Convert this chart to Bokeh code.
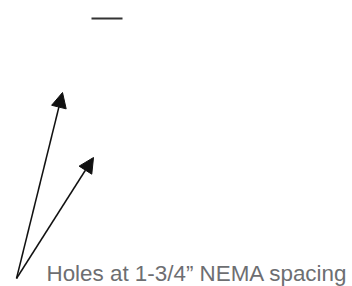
from bokeh.plotting import figure
from bokeh.models import Range1d, Arrow, NormalHead, ColumnDataSource
from bokeh.embed import file_html
from bokeh.resources import INLINE
from bokeh.core.properties import value

# pointer geometry (page pixels)
arrow_x_start = [16, 16]
arrow_y_start = [278, 278]
arrow_x_end = [62, 93]
arrow_y_end = [92, 157]
bar_x = [91, 122]
bar_y = [18, 18]
label_text = ["Holes at 1-3/4\u201d NEMA spacing"]
label_x = [46]
label_y = [273]

W, H = 352, 286
p = figure(width=W, height=H, output_backend="svg", toolbar_location=None,
           x_range=Range1d(0, W), y_range=Range1d(H, 0), min_border=0)
p.axis.visible = False
p.grid.visible = False
p.outline_line_color = None

p.line(bar_x, bar_y, line_color="#333333", line_width=2)

src = ColumnDataSource(dict(x0=arrow_x_start, y0=arrow_y_start, x1=arrow_x_end, y1=arrow_y_end))
p.add_layout(Arrow(end=NormalHead(size=15, fill_color="#111111", line_color="#111111", line_width=1),
                   x_start="x0", y_start="y0", x_end="x1", y_end="y1",
                   line_color="#111111", line_width=1.5, source=src))

p.text(label_x, label_y, text=label_text, text_font=value("Liberation Sans"),
       text_font_size="22.4px", text_color="#6d6e71", text_baseline="alphabetic")

open("out.html", "w").write(file_html(p, INLINE))
